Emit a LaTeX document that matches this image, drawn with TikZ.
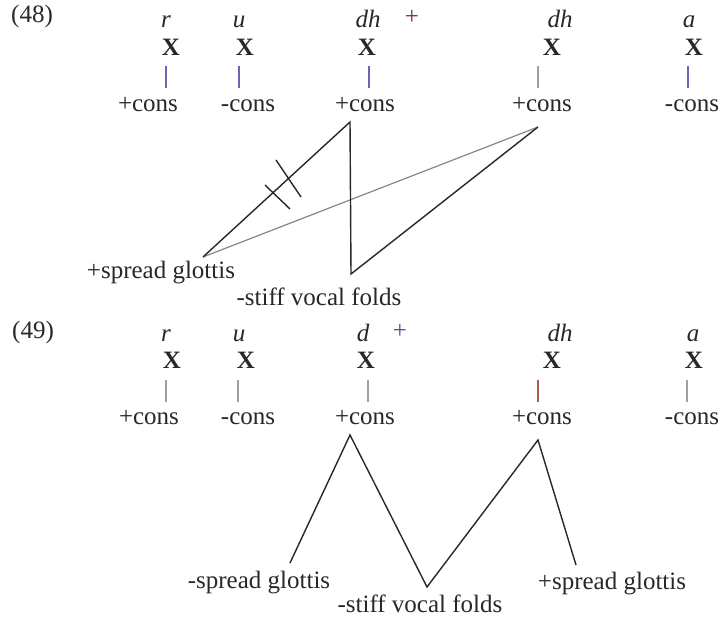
\documentclass[tikz,border=0pt]{standalone}
\usepackage{fontspec}
\setmainfont{Liberation Serif}
\definecolor{barblue}{RGB}{105,100,190}
\definecolor{bargrey}{RGB}{160,160,160}
\definecolor{barred}{RGB}{170,90,70}
\definecolor{plusred}{RGB}{130,40,55}
\definecolor{plusblue}{RGB}{75,75,160}
\definecolor{linegrey}{RGB}{135,135,135}
\definecolor{ink}{RGB}{40,40,40}
\begin{document}
\begin{tikzpicture}[x=0.5pt,y=-0.5pt,
  txt/.style={inner sep=0pt,anchor=base,font=\fontsize{12.5}{15}\selectfont,text=ink},
  seg/.style={txt,font=\fontsize{12.5}{15}\selectfont\itshape},
  xslot/.style={txt,font=\fontsize{12.5}{15}\selectfont\bfseries},
  bar/.style={line width=0.9pt},
  assoc/.style={draw=ink,line width=0.7pt},
  lassoc/.style={draw=linegrey,line width=0.6pt}]
\useasboundingbox (0,0) rectangle (723,624);
\fill[white] (0,0) rectangle (723,624);

% ---------- (48) ----------
\node[txt] (n48) at (32,23) {(48)};
\node[seg] (ar) at (166,28) {r};
\node[seg] (au) at (239,28) {u};
\node[seg] (adh) at (368,28) {dh};
\node[txt,text=plusred] (aplus) at (412,25) {+};
\node[seg] (adh2) at (560,28) {dh};
\node[seg] (aa) at (689,28) {a};
\node[xslot] (ax1) at (171,56) {X};
\node[xslot] (ax2) at (245,56) {X};
\node[xslot] (ax3) at (367,56) {X};
\node[xslot] (ax4) at (552,56) {X};
\node[xslot] (ax5) at (694,56) {X};
\node[txt] (ac1) at (148,112) {+cons};
\node[txt] (ac2) at (248,112) {-cons};
\node[txt] (ac3) at (365,112) {+cons};
\node[txt] (ac4) at (542,112) {+cons};
\node[txt] (ac5) at (692,112) {-cons};
\draw[bar,barblue] (166,66) -- (166,88);
\draw[bar,barblue] (239,66) -- (239,88);
\draw[bar,barblue] (369,66) -- (369,88);
\draw[bar,bargrey] (538,66) -- (538,88);
\draw[bar,barblue] (688,66) -- (688,88);

\node[txt] (asg) at (161,279) {+spread glottis};
\node[txt] (asv) at (319,306) {-stiff vocal folds};
\coordinate (ap1) at (350,122);
\coordinate (ap2) at (538,127);
\coordinate (asgp) at (203,257);
\coordinate (asvp) at (351,274);
\draw[lassoc] (asgp) -- (ap2);
\draw[assoc] (asgp) -- (ap1) -- (asvp) -- (ap2);
\coordinate (t1a) at (265,185);
\coordinate (t1b) at (290,209);
\coordinate (t2a) at (276,160);
\coordinate (t2b) at (301,197);
\draw[assoc] (t1a) -- (t1b);
\draw[assoc] (t2a) -- (t2b);

% ---------- (49) ----------
\node[txt] (n49) at (33,339) {(49)};
\node[seg] (br) at (166,342) {r};
\node[seg] (bu) at (239,342) {u};
\node[seg] (bd) at (363,342) {d};
\node[txt,text=plusblue] (bplus) at (400,339) {+};
\node[seg] (bdh) at (560,342) {dh};
\node[seg] (ba) at (693,342) {a};
\node[xslot] (bx1) at (172,369) {X};
\node[xslot] (bx2) at (246,369) {X};
\node[xslot] (bx3) at (366,369) {X};
\node[xslot] (bx4) at (552,369) {X};
\node[xslot] (bx5) at (694,369) {X};
\node[txt] (bc1) at (149,425) {+cons};
\node[txt] (bc2) at (248,425) {-cons};
\node[txt] (bc3) at (365,425) {+cons};
\node[txt] (bc4) at (542,425) {+cons};
\node[txt] (bc5) at (692,425) {-cons};
\draw[bar,bargrey] (166,380) -- (166,402);
\draw[bar,bargrey] (238,380) -- (238,402);
\draw[bar,bargrey] (368,380) -- (368,402);
\draw[bar,barred] (538,380) -- (538,402);
\draw[bar,bargrey] (687,380) -- (687,402);

\node[txt] (bsgm) at (259,589) {-spread glottis};
\node[txt] (bsv) at (420,613) {-stiff vocal folds};
\node[txt] (bsgp) at (612,590) {+spread glottis};
\coordinate (bp1) at (350,435);
\coordinate (bp2) at (538,440);
\coordinate (bsgmp) at (290,563);
\coordinate (bsvp) at (427,587);
\coordinate (bsgpp) at (576,565);
\draw[assoc] (bsgmp) -- (bp1) -- (bsvp) -- (bp2) -- (bsgpp);
\end{tikzpicture}
\end{document}
